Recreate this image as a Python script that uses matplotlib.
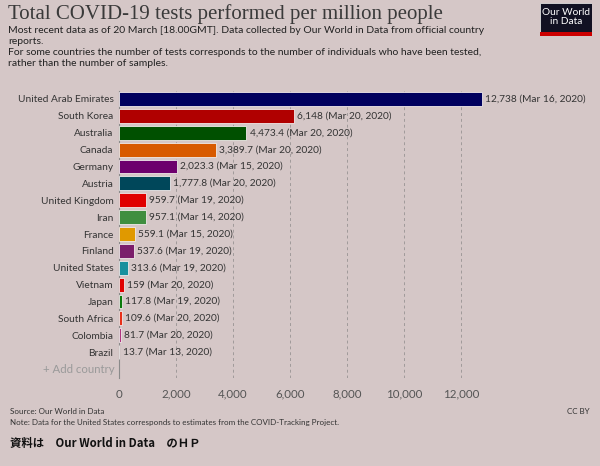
import matplotlib
matplotlib.use("Agg")
import matplotlib.pyplot as plt
from matplotlib.patches import Rectangle

countries = ["United Arab Emirates", "South Korea", "Australia", "Canada", "Germany",
             "Austria", "United Kingdom", "Iran", "France", "Finland", "United States",
             "Vietnam", "Japan", "South Africa", "Colombia", "Brazil"]
values = [12738, 6148, 4473.4, 3389.7, 2023.3, 1777.8, 959.7, 957.1, 559.1, 537.6,
          313.6, 159, 117.8, 109.6, 81.7, 13.7]
value_labels = ["12,738", "6,148", "4,473.4", "3,389.7", "2,023.3", "1,777.8", "959.7",
                "957.1", "559.1", "537.6", "313.6", "159", "117.8", "109.6", "81.7", "13.7"]
dates = ["Mar 16, 2020", "Mar 20, 2020", "Mar 20, 2020", "Mar 20, 2020", "Mar 15, 2020",
         "Mar 20, 2020", "Mar 19, 2020", "Mar 14, 2020", "Mar 15, 2020", "Mar 19, 2020",
         "Mar 19, 2020", "Mar 20, 2020", "Mar 19, 2020", "Mar 20, 2020", "Mar 20, 2020",
         "Mar 13, 2020"]
colors = ["#00005e", "#b00000", "#005000", "#d85a00", "#6d006d", "#00475a", "#e00000",
          "#3f8e3f", "#e09900", "#7b1e6b", "#18909e", "#e00000", "#0b7a0b", "#e8301a",
          "#b0357f", "#64a59b"]
xticks = [0, 2000, 4000, 6000, 8000, 10000, 12000]
xtick_labels = ["0", "2,000", "4,000", "6,000", "8,000", "10,000", "12,000"]

BG = "#d5c7c7"
W, H = 600, 466
fig = plt.figure(figsize=(6, 4.66), dpi=100, facecolor=BG)

ax_left, ax_right = 119, 560
ax_top, ax_bottom = 90.5, 377.5
ax = fig.add_axes([ax_left / W, 1 - ax_bottom / H, (ax_right - ax_left) / W, (ax_bottom - ax_top) / H])
ax.set_facecolor(BG)
xmax = (ax_right - ax_left) * 2000 / 57
ax.set_xlim(0, xmax)
n = len(countries)
ax.set_ylim(n + 0.5, -0.5)

ys = list(range(n))
ax.barh(ys, values, height=0.82, color=colors, edgecolor="#f0eaea", linewidth=0.6, zorder=3)
for y, v, vl, d in zip(ys, values, value_labels, dates):
    ax.text(v + 110, y, f"{vl} ({d})", va="center", ha="left", fontsize=7.3,
            family="Lato", color="#333333", zorder=4)

ax.set_yticks(ys)
ax.set_yticklabels(countries, fontsize=7.3, family="Lato", color="#333333")
ax.tick_params(axis="y", length=0, pad=4)
ax.text(-0.009, n, "+ Add country", transform=ax.get_yaxis_transform(), ha="right",
        va="center", fontsize=8.2, family="Lato", color="#9a9a9a")

ax.set_xticks(xticks)
ax.set_xticklabels(xtick_labels, fontsize=8.3, family="Lato", color="#555555")
ax.tick_params(axis="x", length=0, pad=8)
for t in xticks[1:]:
    ax.axvline(t, color="#a09a9a", linestyle=(0, (3, 3)), linewidth=0.7, zorder=1)
for s in ["top", "right", "bottom"]:
    ax.spines[s].set_visible(False)
ax.spines["left"].set_color("#8a8a8a")
ax.spines["left"].set_linewidth(0.8)

# Title and subtitle
fig.text(8 / W, 1 - 4 / H, "Total COVID-19 tests performed per million people",
         fontsize=15, family="Liberation Serif", color="#3a3a3a", va="top", ha="left")
sub = ("Most recent data as of 20 March [18.00GMT]. Data collected by Our World in Data from official country\n"
       "reports.\n"
       "For some countries the number of tests corresponds to the number of individuals who have been tested,\n"
       "rather than the number of samples.")
fig.text(8 / W, 1 - 26 / H, sub, fontsize=7.5, family="Lato", color="#222222",
         va="top", ha="left", linespacing=1.3)

# Logo
logo = fig.add_axes([540 / W, 1 - 36 / H, 52 / W, 33 / H])
logo.set_xlim(0, 1)
logo.set_ylim(0, 1)
logo.axis("off")
logo.add_patch(Rectangle((0, 0), 1, 1, facecolor="#111122", edgecolor="#dddddd", linewidth=0.6))
logo.add_patch(Rectangle((0, 0), 1, 0.12, facecolor="#cc0000", edgecolor="none"))
logo.text(0.5, 0.58, "Our World\nin Data", ha="center", va="center", color="white",
          fontsize=7.3, family="Lato", linespacing=0.95)

# Footer
fig.text(10 / W, 1 - 411 / H, "Source: Our World in Data", fontsize=5.8, family="Lato",
         color="#333333", va="center", ha="left")
fig.text(10 / W, 1 - 422 / H,
         "Note: Data for the United States corresponds to estimates from the COVID-Tracking Project.",
         fontsize=5.8, family="Lato", color="#333333", va="center", ha="left")
fig.text(590 / W, 1 - 411 / H, "CC BY", fontsize=5.8, family="Lato", color="#333333",
         va="center", ha="right")
fig.text(10 / W, 1 - 443 / H, "資料は　Our World in Data　のＨＰ", fontsize=8.2,
         family=["Noto Sans CJK JP", "DejaVu Sans"], fontweight="bold", color="#111111",
         va="center", ha="left")

fig.savefig("out.png", dpi=100, facecolor=BG)
